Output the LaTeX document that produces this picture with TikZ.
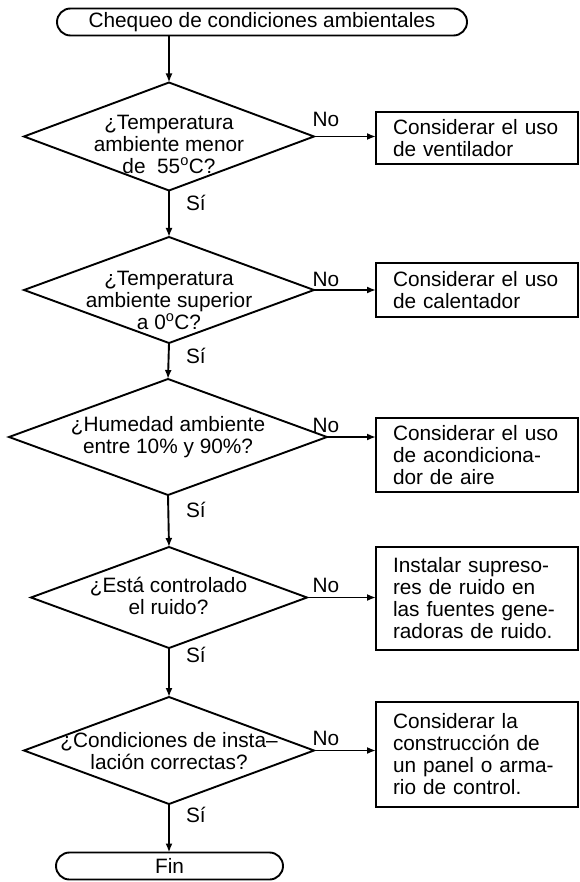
\documentclass[tikz,border=0pt]{standalone}
\usepackage{fontspec}
\setmainfont{Liberation Sans}
\usetikzlibrary{shapes.geometric,arrows.meta}
\begin{document}
\begin{tikzpicture}[x=1pt,y=-1pt,
  every node/.style={font=\fontsize{20.8}{22}\selectfont, inner sep=0pt, outer sep=0pt},
  term/.style={draw, line width=1.9pt, rounded corners=13.5pt, minimum height=27pt},
  dia/.style={draw, diamond, line width=1.9pt},
  dtext/.style={align=center},
  actbox/.style={draw, line width=1.9pt, minimum width=202pt, text width=168pt, inner xsep=17pt, align=left},
  yes/.style={anchor=base west},
  no/.style={anchor=base},
  flow/.style={line width=1.9pt, -{Latex[length=9pt,width=7pt]}}
]
\useasboundingbox (0,0) rectangle (579,882);

% terminals
\node[term, minimum width=410pt] (start) at (262,22) {Chequeo de condiciones ambientales};
\node[term, minimum width=227pt] (fin) at (169.5,866) {Fin};

% decisions
\node[dia, minimum width=290pt, minimum height=108pt] (d1) at (169,136.5) {};
\node[dia, minimum width=290pt, minimum height=106pt] (d2) at (169,290) {};
\node[dia, minimum width=318pt, minimum height=116pt] (d3) at (168,437) {};
\node[dia, minimum width=276pt, minimum height=101pt] (d4) at (169,597.5) {};
\node[dia, minimum width=290pt, minimum height=107pt] (d5) at (169,750.5) {};

\node[dtext] (t1) at (169,144) {¿Temperatura\\ambiente menor\\de\ \ 55\textsuperscript{o}C?};
\node[dtext] (t2) at (169,300) {¿Temperatura\\ambiente superior\\a 0\textsuperscript{o}C?};
\node[dtext] (t3) at (168,437) {¿Humedad ambiente\\entre 10\% y 90\%?};
\node[dtext] (t4) at (168.5,596) {¿Está controlado\\el ruido?};
\node[dtext] (t5) at (169,751) {¿Condiciones de insta–\\lación correctas?};

% action boxes
\node[actbox, minimum height=52pt] (b1) at (477,138) {Considerar el uso\\de ventilador};
\node[actbox, minimum height=54pt] (b2) at (477,290) {Considerar el uso\\de calentador};
\node[actbox, minimum height=74pt] (b3) at (477,455) {Considerar el uso\\de acondiciona-\\dor de aire};
\node[actbox, minimum height=103pt] (b4) at (477,598.5) {Instalar supreso-\\res de ruido en\\las fuentes gene-\\radoras de ruido.};
\node[actbox, minimum height=105pt] (b5) at (477,754.5) {Considerar la\\construcción de\\un panel o arma-\\rio de control.};

% vertical flow
\draw[flow] (d1.north |- start.south) -- (d1.north);
\draw[flow] (d1.south) -- (d2.north);
\draw[flow] (d2.south) -- (d3.north);
\draw[flow] (d3.south) -- (d4.north);
\draw[flow] (d4.south) -- (d5.north);
\draw[flow] (d5.south) -- (fin.north -| d5.south);

% No branches
\draw[flow] (d1.east) -- (d1.east -| b1.west);
\draw[flow] (d2.east) -- (d2.east -| b2.west);
\draw[flow] (d3.east) -- (d3.east -| b3.west);
\draw[flow] (d4.east) -- (d4.east -| b4.west);
\draw[flow] (d5.east) -- (d5.east -| b5.west);

% labels
\node[no] (no1) at (326,127) {No};
\node[no] (no2) at (326,287) {No};
\node[no] (no3) at (326,432) {No};
\node[no] (no4) at (326,592) {No};
\node[no] (no5) at (326,745) {No};

\node[yes] (si1) at (186,211) {Sí};
\node[yes] (si2) at (186,363) {Sí};
\node[yes] (si3) at (186,517) {Sí};
\node[yes] (si4) at (186,662) {Sí};
\node[yes] (si5) at (186,822) {Sí};
\end{tikzpicture}
\end{document}
